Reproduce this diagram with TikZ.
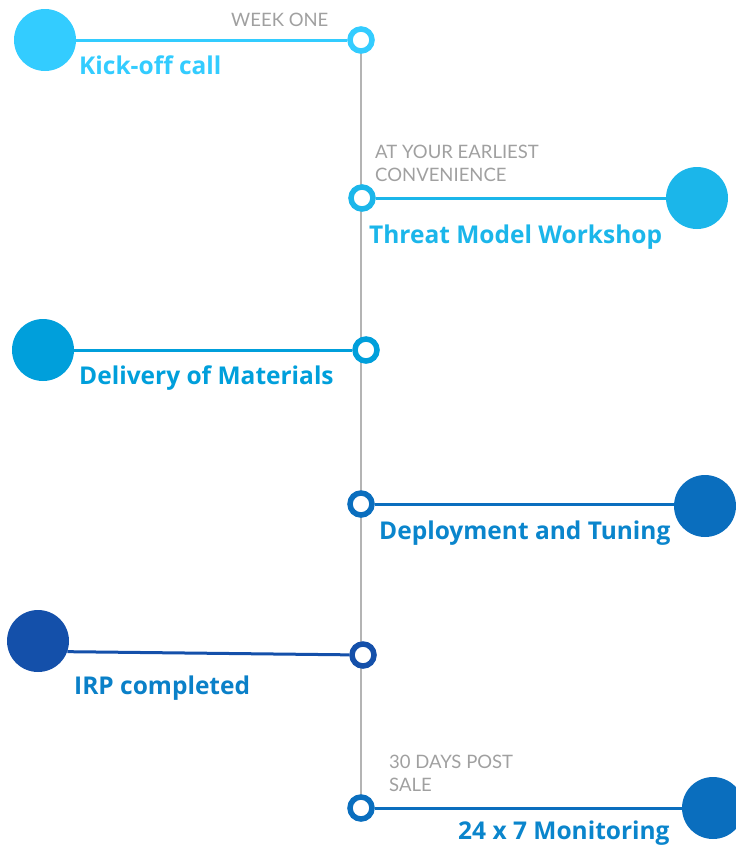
\documentclass[tikz,border=0pt]{standalone}
\usepackage{fontspec}
\setmainfont{Lato}
\newfontfamily\titlefont{Open Sans}
\definecolor{cA}{HTML}{33CCFF}
\definecolor{cB}{HTML}{1BB6EA}
\definecolor{cC}{HTML}{009FDB}
\definecolor{cD}{HTML}{0A6EBE}
\definecolor{cDt}{HTML}{0A85CC}
\definecolor{cE}{HTML}{1450AA}
\definecolor{cEt}{HTML}{0A80C8}
\definecolor{gtext}{HTML}{A0A0A0}
\definecolor{gline}{HTML}{B4B4B4}
\begin{document}
\begin{tikzpicture}[x=1pt,y=-1pt,
  bigdot/.style={circle,inner sep=0pt,minimum size=62pt,fill=#1},
  smalldot/.style={circle,inner sep=0pt,minimum size=22pt,draw=#1,line width=5.5pt,fill=white},
  link/.style={draw=#1,line width=3pt},
  title/.style={text=#1,font=\titlefont\fontsize{24.5}{24}\selectfont\bfseries,inner sep=0pt,anchor=base west},
  note/.style={text=gtext,font=\fontsize{18.5}{23}\selectfont,inner sep=0pt,anchor=base west,align=left}]
\useasboundingbox (0,0) rectangle (736,846);
\coordinate (s1p) at (361,40);
\coordinate (s6p) at (361,808);
\draw[gline,line width=2pt] (s1p) -- (s6p);
% event 1
\node[bigdot=cA] (b1) at (45,40) {};
\node[smalldot=cA] (s1) at (361,40) {};
\draw[link=cA] (b1) -- (s1);
\node[title=cA] (t1) at (79,74) {Kick-off call};
\node[note] (n1) at (231,26) {WEEK ONE};
% event 2
\node[bigdot=cB] (b2) at (697,198) {};
\node[smalldot=cB] (s2) at (362,198) {};
\draw[link=cB] (s2) -- (b2);
\node[title=cB] (t2) at (369,243) {Threat Model Workshop};
\node[note] (n2) at (375,181) {AT YOUR EARLIEST\\CONVENIENCE};
% event 3
\node[bigdot=cC] (b3) at (43,350) {};
\node[smalldot=cC] (s3) at (366,350) {};
\draw[link=cC] (b3) -- (s3);
\node[title=cC] (t3) at (79,384) {Delivery of Materials};
% event 4
\node[bigdot=cD] (b4) at (705,506) {};
\node[smalldot=cD] (s4) at (361,504) {};
\draw[link=cD] (s4) -- (s4 -| b4.west);
\node[title=cDt] (t4) at (379,539) {Deployment and Tuning};
% event 5
\node[bigdot=cE] (b5) at (38,641) {};
\node[smalldot=cE] (s5) at (363,655) {};
\draw[link=cE] (b5.-20) -- (s5);
\node[title=cEt] (t5) at (74,694) {IRP completed};
% event 6
\node[bigdot=cD] (b6) at (713,808) {};
\node[smalldot=cD] (s6) at (361,808) {};
\draw[link=cD] (s6) -- (b6);
\node[title=cDt] (t6) at (458,839) {24 x 7 Monitoring};
\node[note] (n6) at (389,791) {30 DAYS POST\\SALE};
\end{tikzpicture}
\end{document}
